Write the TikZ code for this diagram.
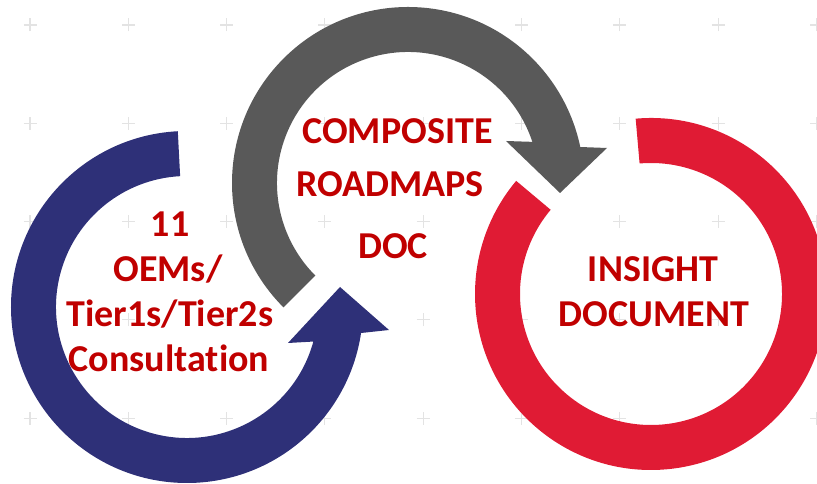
\documentclass[tikz,border=0pt]{standalone}
\usepackage{fontspec}
\setmainfont{Carlito}[Ligatures=NoCommon]
\usetikzlibrary{calc}
\definecolor{arrowblue}{HTML}{2E3078}
\definecolor{arrowgray}{HTML}{595959}
\definecolor{ringred}{HTML}{E01B34}
\definecolor{textred}{HTML}{C00000}
\tikzset{
  steptext/.style={text=textred,font=\fontsize{28.5}{34}\selectfont\bfseries,anchor=base,inner sep=0pt},
  gridplus/.style={gray!22,line width=0.8pt}
}
\def\Ro{132pt}  % outer radius
\def\Ri{98.25pt} % inner radius

\begin{document}
\begin{tikzpicture}[x=0.75pt,y=0.75pt]
  \useasboundingbox (0,0) rectangle (817,484);
  % background crosses
  \foreach \i in {0,...,8}
    \foreach \j in {0,...,4}
      \draw[gridplus] ({30+98.3*\i-6.5},{459-98.3*\j}) -- ++(13,0)
                      ({30+98.3*\i},{459-98.3*\j-6.5}) -- ++(0,13);
  \coordinate (cb) at (187,177);
  \coordinate (cg) at (408,301);
  \coordinate (cr) at (651,190);
  \fill[arrowblue] ($(cb)+(93:\Ro)$) arc[start angle=93,end angle=351.5,radius=\Ro]
    -- (389,154) -- (340,197) -- (288,141)
    -- ($(cb)+(344.7:\Ri)$) arc[start angle=344.7,end angle=93,radius=\Ri] -- cycle;
  \fill[arrowgray] ($(cg)+(225:\Ro)$) arc[start angle=225,end angle=11.8,radius=\Ro]
    -- (607,336) -- (560,291) -- (506,343)
    -- ($(cg)+(18.3:\Ri)$) arc[start angle=18.3,end angle=225,radius=\Ri] -- cycle;
  \fill[ringred] ($(cr)+(95:\Ro)$) arc[start angle=95,end angle=-220,radius=\Ro]
    -- ($(cr)+(-220:\Ri)$) arc[start angle=-220,end angle=95,radius=\Ri] -- cycle;
  \node[steptext] (oems1) at (170,247) {11};
  \node[steptext] (oems2) at (168,202) {OEMs/};
  \node[steptext] (oems3) at (170,157) {Tier1s/Tier2s};
  \node[steptext] (oems4) at (169,112) {Consultation};
  \node[steptext] (comp1) at (397.5,340) {COMPOSITE};
  \node[steptext] (comp2) at (390,287) {ROADMAPS};
  \node[steptext] (comp3) at (393,225) {DOC};
  \node[steptext] (ins1) at (653,202) {INSIGHT};
  \node[steptext] (ins2) at (654,157) {DOCUMENT};
\end{tikzpicture}
\end{document}
